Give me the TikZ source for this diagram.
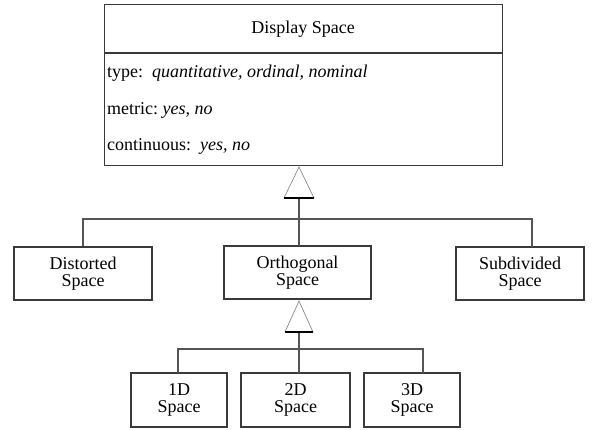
\documentclass[tikz,border=0pt]{standalone}
\usepackage{fontspec}
\setmainfont{Liberation Serif}
\definecolor{edge}{HTML}{3A3A3A}
\definecolor{wire}{HTML}{555555}
\definecolor{tri}{HTML}{8A8A8A}
\begin{document}
\begin{tikzpicture}[x=1pt,y=-1pt,
  txt/.style={font=\fontsize{18}{17}\selectfont, inner sep=0pt},
  box/.style={txt, draw=edge, line width=1.1pt, align=center},
  attr/.style={txt, anchor=base west},
  wirestyle/.style={draw=wire, line width=1.2pt},
  triside/.style={draw=tri, line width=0.7pt},
  tribase/.style={draw=black, line width=1.4pt}]
\useasboundingbox (0,0) rectangle (595,429);

% class box with its attributes
\node[box, minimum width=398pt, minimum height=161pt, anchor=north west] (ds) at (104,4) {};
\coordinate (divl) at (104,53);
\coordinate (divr) at (502,53);
\draw[draw=edge, line width=1.1pt] (divl) -- (divr);
\node[txt, anchor=base] (title) at (303,33) {Display Space};
\node[attr] (atype) at (107,77) {type:\ \ \textit{quantitative, ordinal, nominal}};
\node[attr] (ametric) at (107,114) {metric:\ \textit{yes, no}};
\node[attr] (acont) at (107,150) {continuous:\ \ \textit{yes, no}};

% first level subclasses
\node[box, minimum width=138pt, minimum height=53pt] (dist) at (83,273.5) {Distorted\\Space};
\node[box, minimum width=147pt, minimum height=53pt] (orth) at (297.5,272.5) {Orthogonal\\Space};
\node[box, minimum width=128pt, minimum height=53pt] (sub) at (520,273.5) {Subdivided\\Space};

% second level subclasses
\node[box, minimum width=96pt, minimum height=54pt] (one) at (179,400) {1D\\Space};
\node[box, minimum width=109pt, minimum height=54pt] (two) at (295.5,400) {2D\\Space};
\node[box, minimum width=96pt, minimum height=54pt] (three) at (412,400) {3D\\Space};

% generalisation arrow to Display Space
\coordinate (apex1) at (299,167);
\coordinate (b1l) at (284,198);
\coordinate (b1r) at (314,198);
\coordinate (b1) at (299,198);
\coordinate (bus1) at (299,219);
\coordinate (subtop) at (532,247);
\coordinate (orthtop) at (299,246);
\draw[triside] (b1l) -- (apex1) -- (b1r);
\draw[wirestyle] (b1) -- (orthtop);
\draw[wirestyle] (dist.north) |- (bus1) -| (subtop);
\draw[tribase] (b1l) -- (b1r);

% generalisation arrow to Orthogonal Space
\coordinate (apex2) at (299,301);
\coordinate (b2l) at (285,332);
\coordinate (b2r) at (313,332);
\coordinate (b2) at (299,332);
\coordinate (bus2) at (299,349);
\coordinate (onetop) at (178,373);
\coordinate (twotop) at (299,373);
\coordinate (threetop) at (423,373);
\draw[triside] (b2l) -- (apex2) -- (b2r);
\draw[wirestyle] (b2) -- (twotop);
\draw[wirestyle] (onetop) |- (bus2) -| (threetop);
\draw[tribase] (b2l) -- (b2r);
\end{tikzpicture}
\end{document}
